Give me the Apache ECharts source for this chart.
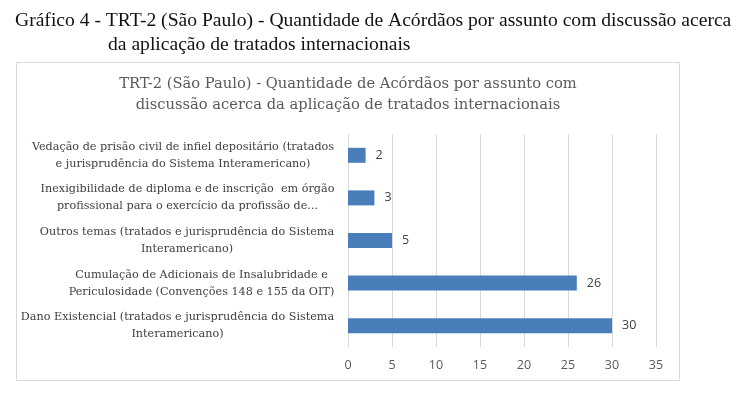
<!DOCTYPE html>
<html><head><meta charset="utf-8">
<script src="https://cdn.jsdelivr.net/npm/echarts@6/dist/echarts.min.js"></script>
<style>html,body{margin:0;padding:0;background:#fff}#c{width:736px;height:393px}</style>
</head><body><div id="c"></div>
<script>
const captionLines = [
  "Gráfico 4 - TRT-2 (São Paulo) - Quantidade de Acórdãos por assunto com discussão acerca",
  "da aplicação de tratados internacionais"
];
const chartTitle = "TRT-2 (São Paulo) - Quantidade de Acórdãos por assunto com\ndiscussão acerca da aplicação de tratados internacionais";
const categories = [
  "Dano Existencial (tratados e jurisprudência do Sistema\nInteramericano)",
  "Cumulação de Adicionais de Insalubridade e\nPericulosidade (Convenções 148 e 155 da OIT)",
  "Outros temas (tratados e jurisprudência do Sistema\nInteramericano)",
  "Inexigibilidade de diploma e de inscrição  em órgão\nprofissional para o exercício da profissão de...",
  "Vedação de prisão civil de infiel depositário (tratados\ne jurisprudência do Sistema Interamericano)"
];
const values = [30, 26, 5, 3, 2];
const axisTicks = [0, 5, 10, 15, 20, 25, 30, 35];

const labelFont = "'DejaVu Serif', serif";
const labelSize = 11.2;
const cv = document.createElement('canvas').getContext('2d');
cv.font = labelSize + "px 'DejaVu Serif'";
const rich = {};
categories.forEach((c, i) => {
  const w = Math.max(...c.split('\n').map(l => cv.measureText(l).width));
  rich['r' + i] = {width: Math.ceil(w) + 1, align: 'center', fontFamily: labelFont, fontSize: labelSize, color: '#404040', lineHeight: 17};
});

const chart = echarts.init(document.getElementById('c'), null, {renderer: 'canvas'});
const serif = "'Liberation Serif', serif";
chart.setOption({
  animation: false,
  title: [
    {text: captionLines[0], left: 10, top: 6, textStyle: {fontFamily: serif, fontSize: 19.6, fontWeight: 'normal', color: '#111'}},
    {text: captionLines[1], left: 103, top: 30, textStyle: {fontFamily: serif, fontSize: 19.6, fontWeight: 'normal', color: '#111'}},
    {text: chartTitle, left: 343, top: 69, textAlign: 'center', textStyle: {fontFamily: "'DejaVu Serif', serif", fontSize: 14.7, fontWeight: 'normal', color: '#595959', lineHeight: 21}}
  ],
  graphic: [{type: 'rect', shape: {x: 16.5, y: 62.5, width: 663, height: 318}, style: {fill: 'none', stroke: '#d9d9d9', lineWidth: 1}, silent: true}],
  grid: {left: 348, right: 80, top: 134, bottom: 46, containLabel: false},
  xAxis: {
    type: 'value', min: 0, max: 35, interval: 5,
    axisLine: {show: false}, axisTick: {show: false},
    splitLine: {lineStyle: {color: '#d9d9d9'}},
    axisLabel: {color: '#595959', fontFamily: "'Open Sans', sans-serif", fontSize: 12.5, margin: 12,
      formatter: v => axisTicks.includes(v) ? String(v) : ''}
  },
  yAxis: {
    type: 'category', data: categories,
    axisLine: {lineStyle: {color: '#d9d9d9'}}, axisTick: {show: false},
    axisLabel: {margin: 13, align: 'right', rich: rich,
      formatter: (v, i) => v.split('\n').map(l => '{r' + i + '|' + l + '}').join('\n')}
  },
  series: [{
    type: 'bar', data: values, barWidth: 15,
    itemStyle: {color: '#4a7ebb'},
    label: {show: true, position: 'right', distance: 10, color: '#404040', fontFamily: "'Open Sans', sans-serif", fontSize: 12.5}
  }]
});
</script></body></html>
